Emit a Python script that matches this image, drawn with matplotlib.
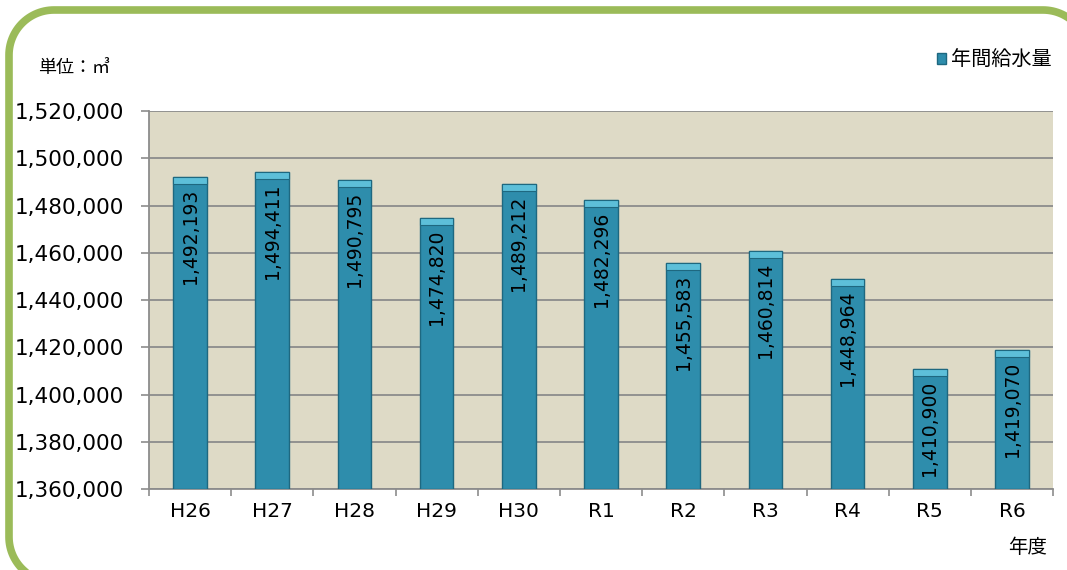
import matplotlib
matplotlib.use("Agg")
import numpy as np
import matplotlib.pyplot as plt
from matplotlib.ticker import FuncFormatter, FixedLocator

plt.rcParams["font.family"] = ["DejaVu Sans", "Noto Sans CJK JP"]

years = ["H26", "H27", "H28", "H29", "H30", "R1", "R2", "R3", "R4", "R5", "R6"]
supply = [1492193, 1494411, 1490795, 1474820, 1489212, 1482296,
          1455583, 1460814, 1448964, 1410900, 1419070]

Y_MIN, Y_MAX, Y_STEP = 1360000, 1520000, 20000
BAR_COLOR = "#2E8DAC"
CAP_COLOR = "#5DBFD9"
EDGE_COLOR = "#1E6880"
PLOT_BG = "#DEDAC6"
GRID_COLOR = "#8C8C8C"

W, H = 1067, 570
fig = plt.figure(figsize=(W / 100, H / 100), dpi=100)


def rounded_rect(x0, y0, x1, y1, r, n=30):
    # outline of a rounded rectangle as plain line segments
    pts = []
    corners = [(x1 - r, y1 - r, 0), (x0 + r, y1 - r, 90),
               (x0 + r, y0 + r, 180), (x1 - r, y0 + r, 270)]
    for cx, cy, a0 in corners:
        t = np.radians(np.linspace(a0, a0 + 90, n))
        pts += list(zip(cx + r * np.cos(t), cy + r * np.sin(t)))
    pts.append(pts[0])
    return np.array(pts)


# background axes in pixel units, only for the green rounded frame
bg = fig.add_axes([0, 0, 1, 1], zorder=-1)
bg.set_xlim(0, W)
bg.set_ylim(0, H)
bg.axis("off")
outline = rounded_rect(9, -12, 1088, 560, 45)
bg.plot(outline[:, 0], outline[:, 1], color="#9BBB59", linewidth=5.5,
        solid_joinstyle="round", clip_on=True)

ax = fig.add_axes([0.1396, 0.142, 0.8474, 0.663])
ax.set_facecolor(PLOT_BG)

x = range(len(years))
ax.bar(x, [v - Y_MIN for v in supply], bottom=Y_MIN, width=0.41,
       color=BAR_COLOR, edgecolor=EDGE_COLOR, linewidth=1.0, zorder=3,
       label="年間給水量")
# lighter bevel at the top of each bar
ax.bar(x, [3000] * len(supply), bottom=[v - 3000 for v in supply], width=0.41,
       color=CAP_COLOR, edgecolor=EDGE_COLOR, linewidth=0.8, zorder=4)

for i, v in enumerate(supply):
    ax.text(i, v - 5000, f"{v:,}", rotation=90, ha="center", va="top",
            fontsize=13.5, color="black", zorder=5)

ax.set_xlim(-0.5, len(years) - 0.5)
ax.set_ylim(Y_MIN, Y_MAX)
ax.set_yticks(range(Y_MIN, Y_MAX + 1, Y_STEP))
ax.yaxis.set_major_formatter(FuncFormatter(lambda v, p: f"{int(v):,}"))
ax.set_xticks(list(x))
ax.set_xticklabels(years)
ax.xaxis.set_minor_locator(FixedLocator([i - 0.5 for i in range(len(years) + 1)]))
ax.tick_params(axis="x", which="major", length=0, labelsize=14.5, pad=9)
ax.tick_params(axis="x", which="minor", length=5, width=1.2, color=GRID_COLOR,
               direction="out")
ax.tick_params(axis="y", length=6, width=1.2, color=GRID_COLOR, labelsize=15.5,
               pad=12)

ax.grid(axis="y", color=GRID_COLOR, linewidth=1.3, zorder=1)
ax.set_axisbelow(True)
for side in ["top", "right"]:
    ax.spines[side].set_visible(False)
for side in ["left", "bottom"]:
    ax.spines[side].set_color(GRID_COLOR)
    ax.spines[side].set_linewidth(1.3)

fig.text(0.036, 0.88, "単位：㎥", fontsize=13, ha="left", va="center")
fig.text(0.981, 0.04, "年度", fontsize=14, ha="right", va="center")

ax.legend(loc="center right", bbox_to_anchor=(0.998, 1.135), frameon=False,
          fontsize=14.5, handlelength=0.45, handleheight=0.45,
          handletextpad=0.25, borderaxespad=0, borderpad=0)

fig.savefig("out.png", dpi=100)
